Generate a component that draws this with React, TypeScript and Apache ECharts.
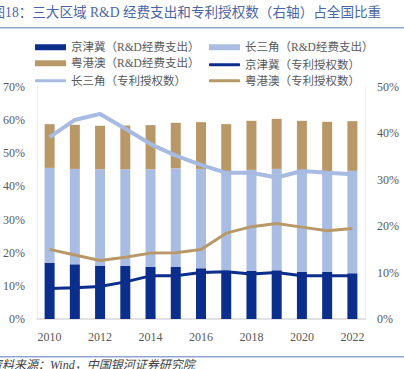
import React, { useEffect, useRef } from "react";
import * as echarts from "echarts";

const years = ["2010","2011","2012","2013","2014","2015","2016","2017","2018","2019","2020","2021","2022"];
// R&D expenditure share (%), stacked
const jjjRd = [17.0, 16.5, 16.1, 16.1, 15.7, 15.7, 15.3, 14.3, 14.5, 14.7, 14.2, 14.2, 13.8];
const csjRd = [28.6, 28.8, 29.1, 29.1, 29.5, 29.8, 30.0, 30.1, 30.5, 30.6, 30.6, 30.3, 30.9];
const ygaRd = [13.2, 13.3, 13.1, 13.2, 13.3, 13.7, 14.1, 14.4, 14.8, 15.1, 15.0, 15.0, 15.0];
// Patent grants share (%), right axis
const jjjPat = [6.6, 6.75, 7.0, 8.0, 9.3, 9.3, 10.0, 10.2, 9.7, 10.0, 9.3, 9.3, 9.3];
const csjPat = [39.2, 42.9, 44.2, 41.0, 37.7, 35.2, 33.2, 31.5, 31.5, 30.5, 31.9, 31.5, 31.2];
const ygaPat = [15.0, 13.8, 12.6, 13.3, 14.2, 14.3, 15.0, 18.5, 19.9, 20.6, 19.8, 19.0, 19.5];

const names = [
  "京津冀（R&D经费支出）",
  "长三角（R&D经费支出）",
  "粤港澳（R&D经费支出）",
  "京津冀（专利授权数）",
  "长三角（专利授权数）",
  "粤港澳（专利授权数）",
];

const DARK = "#0b2d8c";
const LIGHT = "#a9bde3";
const TAN = "#b99868";
const LIGHT_LINE = "#a7bae2";
const FONT = "'Liberation Serif', 'Noto Sans CJK SC', serif";

export default function App() {
  const ref = useRef<HTMLDivElement>(null);
  useEffect(() => {
    if (!ref.current) return;
    const chart = echarts.init(ref.current, undefined, { renderer: "svg" });
    const legendPos = [
      [35, 41.5], [209, 41.5],
      [35, 57.5], [209, 57.5],
      [35, 73.5], [209, 73.5],
    ];
    const legends = names.map((n, i) => ({
      left: legendPos[i][0],
      top: i < 3 ? legendPos[i][1] : legendPos[i][1] + 1.5,
      itemWidth: 31,
      itemHeight: i < 3 ? 6 : 3,
      itemGap: 4,
      padding: 0,
      data: [{ name: n, icon: i < 3 ? "rect" : "roundRect" }],
      textStyle: { fontFamily: FONT, fontSize: 11.5, color: "#595959" },
    }));
    const bar = (name: string, data: number[], color: string) => ({
      name,
      type: "bar",
      stack: "rd",
      barWidth: 10,
      data,
      itemStyle: { color },
    });
    const line = (name: string, data: number[], color: string, width: number) => ({
      name,
      type: "line",
      yAxisIndex: 1,
      symbol: "none",
      data,
      lineStyle: { color, width },
      itemStyle: { color },
      z: 5,
    });
    chart.setOption({
      animation: false,
      backgroundColor: "#ffffff",
      legend: legends,
      grid: { left: 36, right: 39, top: 87, bottom: 50, containLabel: false },
      xAxis: {
        type: "category",
        data: years,
        axisLine: { show: true, lineStyle: { color: "#d9d9d9", width: 1.5 } },
        axisTick: { show: false },
        axisLabel: { interval: 1, margin: 12, fontFamily: FONT, fontSize: 12, color: "#595959" },
      },
      yAxis: [
        {
          type: "value",
          min: 0,
          max: 70,
          interval: 10,
          axisLine: { show: true, lineStyle: { color: "#eeeeee" } },
          splitLine: { show: false },
          axisTick: { show: false },
          axisLabel: { formatter: "{value}%", margin: 12, fontFamily: FONT, fontSize: 12, color: "#595959" },
        },
        {
          type: "value",
          min: 0,
          max: 50,
          interval: 10,
          axisLine: { show: true, lineStyle: { color: "#eeeeee" } },
          splitLine: { show: false },
          axisTick: { show: false },
          axisLabel: { formatter: "{value}%", margin: 12, fontFamily: FONT, fontSize: 12, color: "#595959" },
        },
      ],
      series: [
        bar(names[0], jjjRd, DARK),
        bar(names[1], csjRd, LIGHT),
        bar(names[2], ygaRd, TAN),
        line(names[3], jjjPat, DARK, 3),
        line(names[4], csjPat, LIGHT_LINE, 4),
        line(names[5], ygaPat, TAN, 3),
      ],
      graphic: [
        {
          type: "text",
          left: -8.5,
          top: 6,
          style: {
            text: "图18：三大区域 R&D 经费支出和专利授权数（右轴）占全国比重",
            fontFamily: FONT,
            fontSize: 13.6,
            fill: "#4a66a4",
          },
        },
        {
          type: "rect",
          shape: { x: 0, y: 27, width: 404, height: 1.5 },
          style: { fill: "#8fa5d0" },
        },
        {
          type: "rect",
          shape: { x: 0, y: 356, width: 404, height: 1.5 },
          style: { fill: "#8fa5d0" },
        },
        {
          type: "text",
          left: -10,
          top: 359,
          style: {
            text: "资料来源：Wind，中国银河证券研究院",
            fontFamily: FONT,
            fontSize: 12,
            fontStyle: "italic",
            fill: "#404040",
          },
        },
      ],
    });
    return () => chart.dispose();
  }, []);
  return <div ref={ref} style={{ width: 404, height: 369, position: "absolute", left: 0, top: 0 }} />;
}
